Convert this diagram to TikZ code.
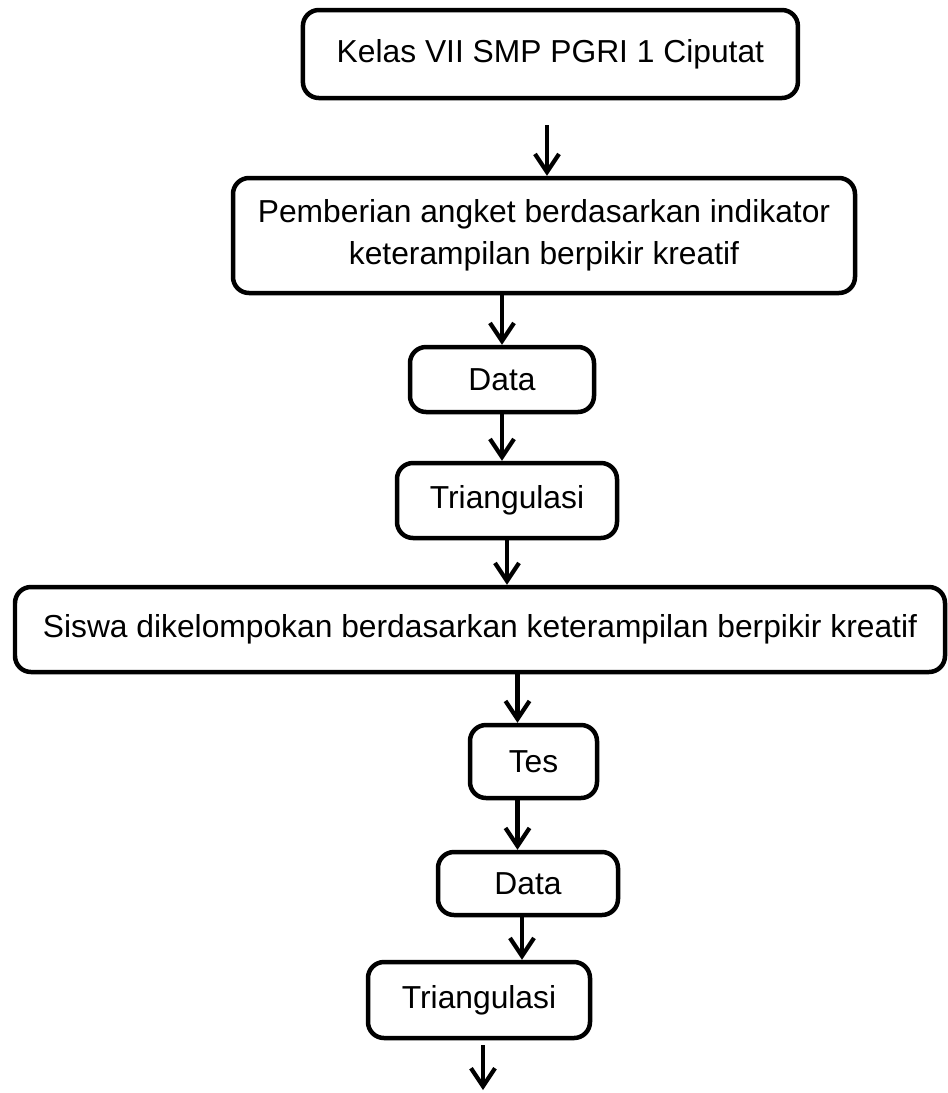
\documentclass[tikz,border=0pt]{standalone}
\usepackage{fontspec}
\setmainfont{Liberation Sans}
\usetikzlibrary{arrows.meta, positioning}

\begin{document}
\begin{tikzpicture}
    \tikzstyle{box} = [rectangle, rounded corners=0.4cm, line width=3.2pt, draw=black, fill=white, align=center, font=\fontsize{22.6}{29.9}\selectfont]
    \tikzstyle{arrow} = [line width=3pt, -{Straight Barb[length=0.45cm, width=0.6cm]}]

    \useasboundingbox (0,0) rectangle (23.7,-27.325);

    \node[box, minimum width=12.375cm, minimum height=2.2cm] (kelas) at (13.76,-1.35) {Kelas VII SMP PGRI 1 Ciputat};
    \node[box, minimum width=15.55cm, minimum height=2.875cm] (pemberian) at (13.6,-5.8875) {Pemberian angket berdasarkan indikator\\keterampilan berpikir kreatif};
    \node[box, minimum width=4.6cm, minimum height=1.625cm] (data1) at (12.55,-9.4875) {Data};
    \node[box, minimum width=5.5cm, minimum height=1.875cm] (tri1) at (12.675,-12.5125) {Triangulasi};
    \node[box, minimum width=23.25cm, minimum height=2.125cm] (siswa) at (12.0,-15.7375) {Siswa dikelompokan berdasarkan keterampilan berpikir kreatif};
    \node[box, minimum width=3.175cm, minimum height=1.825cm] (tes) at (13.3375,-19.0375) {Tes};
    \node[box, minimum width=4.5cm, minimum height=1.575cm] (data2) at (13.2,-22.0875) {Data};
    \node[box, minimum width=5.55cm, minimum height=1.9cm] (tri2) at (11.975,-25.0) {Triangulasi};

    % free ends and off-centre arrow points
    \coordinate (start) at (13.675,-3.125);
    \coordinate (end) at (12.075,-27.25);
    \coordinate (tesin) at ([xshift=-4mm]tes.north);
    \coordinate (tesout) at ([xshift=-4mm]tes.south);
    \coordinate (dataout) at ([xshift=-1.5mm]data2.south);

    \draw[arrow] (start) -- (start |- pemberian.north);
    \draw[arrow] (data1.north |- pemberian.south) -- (data1.north);
    \draw[arrow] (data1.south) -- (data1.south |- tri1.north);
    \draw[arrow] (tri1.south) -- (tri1.south |- siswa.north);
    \draw[arrow] (tesin |- siswa.south) -- (tesin);
    \draw[arrow] (tesout) -- (tesout |- data2.north);
    \draw[arrow] (dataout) -- (dataout |- tri2.north);
    \draw[arrow, shorten <=1.25mm] (end |- tri2.south) -- (end);
\end{tikzpicture}
\end{document}
